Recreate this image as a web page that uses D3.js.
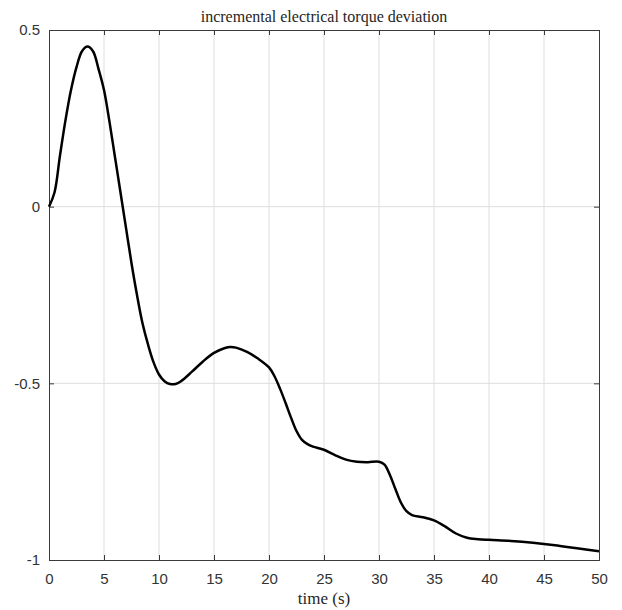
<!DOCTYPE html>
<html><head><meta charset="utf-8">
<script src="https://cdn.jsdelivr.net/npm/d3@7"></script>
<style>body{margin:0;background:#fff}svg{display:block}</style>
</head><body>
<script>
const titleText = "incremental electrical torque deviation";
const xLabel = "time (s)";
const xTicks = [0,5,10,15,20,25,30,35,40,45,50];
const yTicks = [-1,-0.5,0,0.5];
const yTickLabels = ["-1","-0.5","0","0.5"];
const time = [0,0.5,1,1.5,2,2.5,3,3.5,4,4.5,5,5.5,6,6.5,7,7.5,8,8.5,9,9.5,10,10.5,11,11.5,12,13,14,15,16,16.5,17,18,19,20,20.5,21,21.5,22,22.5,23,23.5,24,25,26,27,28,29,30,30.5,31,31.5,32,32.5,33,34,35,36,37,38,39,40,42,44,46,48,50];
const torque = [0,0.04,0.145,0.245,0.33,0.395,0.44,0.453,0.44,0.39,0.33,0.24,0.14,0.04,-0.06,-0.16,-0.25,-0.33,-0.39,-0.44,-0.475,-0.494,-0.502,-0.502,-0.494,-0.467,-0.438,-0.414,-0.400,-0.397,-0.399,-0.411,-0.43,-0.455,-0.48,-0.515,-0.555,-0.597,-0.635,-0.66,-0.672,-0.679,-0.688,-0.703,-0.716,-0.722,-0.723,-0.722,-0.73,-0.76,-0.80,-0.838,-0.862,-0.873,-0.879,-0.888,-0.905,-0.925,-0.937,-0.941,-0.943,-0.946,-0.951,-0.958,-0.967,-0.975];

const W=622,H=610;
const m={l:49,r:23,t:30,b:50};
const svg=d3.select("body").append("svg").attr("width",W).attr("height",H);
const x=d3.scaleLinear().domain([0,50]).range([m.l,W-m.r]);
const y=d3.scaleLinear().domain([-1,0.5]).range([H-m.b,m.t]);

// grid
svg.append("g").selectAll("line").data(xTicks.slice(1,-1)).join("line")
  .attr("x1",d=>x(d)).attr("x2",d=>x(d)).attr("y1",y(0.5)).attr("y2",y(-1))
  .attr("stroke","#dedede").attr("stroke-width",1);
svg.append("g").selectAll("line").data(yTicks.slice(1,-1)).join("line")
  .attr("y1",d=>y(d)).attr("y2",d=>y(d)).attr("x1",x(0)).attr("x2",x(50))
  .attr("stroke","#dedede").attr("stroke-width",1);

// axes
const axCol="#3a3a3a";
const gx=svg.append("g").attr("transform",`translate(0,${y(-1)})`)
  .call(d3.axisBottom(x).tickValues(xTicks).tickSize(-5).tickPadding(13).tickFormat(d3.format("d")));
const gxt=svg.append("g").attr("transform",`translate(0,${y(0.5)})`)
  .call(d3.axisTop(x).tickValues(xTicks).tickSize(-5).tickFormat(""));
const gy=svg.append("g").attr("transform",`translate(${x(0)},0)`)
  .call(d3.axisLeft(y).tickValues(yTicks).tickSize(-5).tickPadding(9).tickFormat((d,i)=>yTickLabels[i]));
const gyr=svg.append("g").attr("transform",`translate(${x(50)},0)`)
  .call(d3.axisRight(y).tickValues(yTicks).tickSize(-5).tickFormat(""));
[gx,gxt,gy,gyr].forEach(g=>{
  g.select(".domain").attr("stroke",axCol);
  g.selectAll(".tick line").attr("stroke",axCol);
  g.selectAll("text").attr("fill","#333").attr("font-family","Liberation Sans, Arial, sans-serif").attr("font-size",15);
});

// line
const line=d3.line().x((d,i)=>x(time[i])).y(d=>y(d)).curve(d3.curveCatmullRom.alpha(0.5));
svg.append("path").datum(torque).attr("d",line).attr("fill","none")
  .attr("stroke","#000").attr("stroke-width",2.5).attr("stroke-linejoin","round");

svg.append("text").attr("x",(x(0)+x(50))/2).attr("y",22).attr("text-anchor","middle")
  .attr("font-family","Liberation Serif, Times New Roman, serif").attr("font-size",16).attr("fill","#262626").text(titleText);
svg.append("text").attr("x",(x(0)+x(50))/2).attr("y",604).attr("text-anchor","middle")
  .attr("font-family","Liberation Serif, Times New Roman, serif").attr("font-size",17).attr("fill","#262626").text(xLabel);
</script>
</body></html>
